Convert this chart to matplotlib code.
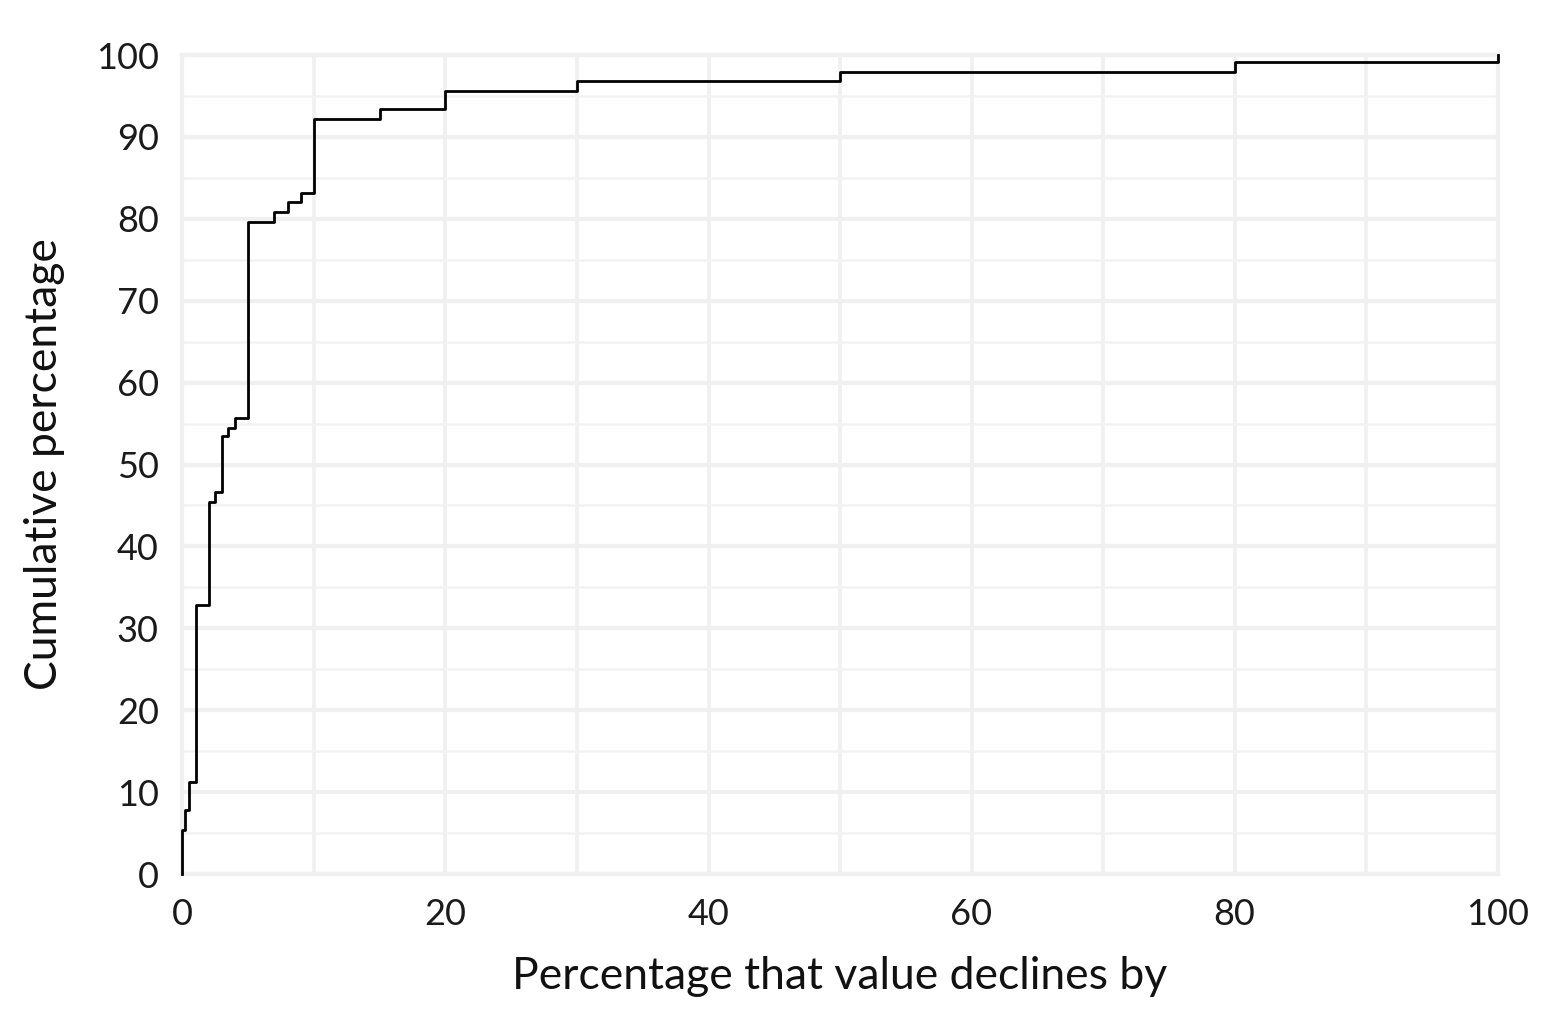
import matplotlib
matplotlib.use("Agg")
import matplotlib.pyplot as plt
from matplotlib.ticker import MultipleLocator

plt.rcParams['font.family'] = ['Lato', 'DejaVu Sans']

# Step points (jump location, cumulative percentage after jump)
decline_pct = [0, 0, 0.2, 0.5, 1, 2, 2.5, 3, 3.5, 4, 5, 7, 8, 9, 10, 15, 20, 30, 50, 80, 100]
cumulative_pct = [0, 5.4, 7.8, 11.2, 32.9, 45.4, 46.7, 53.5, 54.5, 55.7, 79.6, 80.8, 82.0, 83.1,
                  92.2, 93.4, 95.6, 96.8, 97.9, 99.1, 100]

x_ticks = [0, 20, 40, 60, 80, 100]
y_ticks = [0, 10, 20, 30, 40, 50, 60, 70, 80, 90, 100]

fig = plt.figure(figsize=(15.46, 10.34), dpi=100)
ax = fig.add_axes([0.118, 0.1547, 0.8507, 0.7921])

ax.step(decline_pct, cumulative_pct, where='post', color='black', lw=2.0, zorder=3, clip_on=False)

ax.set_xlim(0, 100)
ax.set_ylim(0, 100)
ax.set_xticks(x_ticks)
ax.set_yticks(y_ticks)
ax.xaxis.set_minor_locator(MultipleLocator(10))
ax.yaxis.set_minor_locator(MultipleLocator(5))

ax.grid(which='major', axis='y', color='#f0f0f0', lw=3.0, zorder=0)
ax.grid(which='minor', axis='y', color='#f2f2f2', lw=1.8, zorder=0)
ax.grid(which='major', axis='x', color='#f0f0f0', lw=2.6, zorder=0)
ax.grid(which='minor', axis='x', color='#f0f0f0', lw=2.6, zorder=0)

for s in ax.spines.values():
    s.set_color('#f0f0f0')
    s.set_linewidth(3)

ax.tick_params(which='both', length=0, labelsize=26, colors='#1a1a1a', pad=17)
ax.set_xlabel('Percentage that value declines by', fontsize=32, color='#111111', labelpad=18)
ax.set_ylabel('Cumulative percentage', fontsize=32, color='#111111', labelpad=22)

fig.savefig('out.png', dpi=100)
